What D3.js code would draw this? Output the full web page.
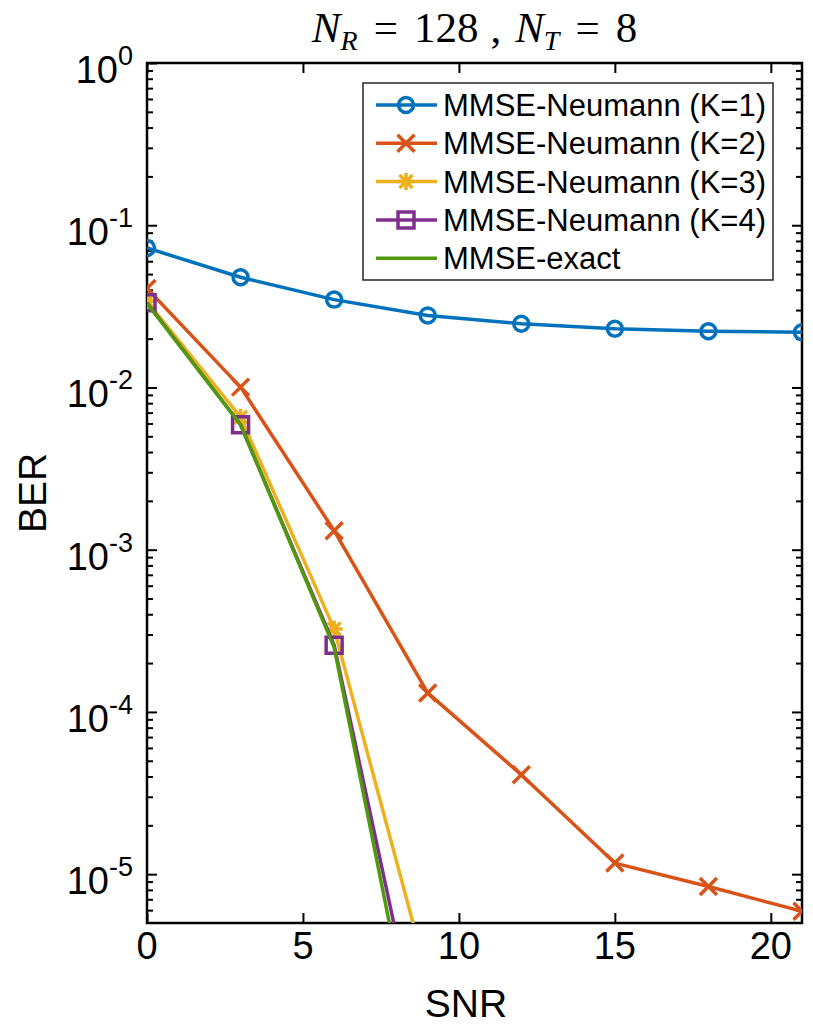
<!DOCTYPE html>
<html>
<head>
<meta charset="utf-8">
<script src="https://cdn.jsdelivr.net/npm/d3@7"></script>
<style>
  body { margin: 0; background: #fff; }
  svg text { font-family: "Liberation Sans", Arial, sans-serif; fill: #000; }
  .tick line { stroke: #000; stroke-width: 2; }
  .domain { display: none; }
</style>
</head>
<body>
<svg id="plot" width="813" height="1028"></svg>
<script>
'use strict';

// SNR grid and BER per detector
var snr = [0, 3, 6, 9, 12, 15, 18, 21];
var berK1 = [0.0724, 0.0478, 0.0348, 0.0278, 0.0247, 0.0230, 0.0222, 0.0219];
var berK2 = [0.0408, 0.01005, 0.00131, 1.31e-4, 4.1e-5, 1.17e-5, 8.4e-6, 5.9e-6];
var berK3 = [0.0340, 0.00656, 3.25e-4, 2.3e-6];
var berK4 = [0.0333, 0.00589, 2.58e-4, 5.3e-7];
var berExact = [0.0330, 0.00590, 2.50e-4, 3.3e-7];

var seriesNames = ['MMSE-Neumann (K=1)', 'MMSE-Neumann (K=2)', 'MMSE-Neumann (K=3)',
                   'MMSE-Neumann (K=4)', 'MMSE-exact'];
var seriesColors = ['#0072BD', '#D95319', '#EDB120', '#7E2F8E', '#4f9a0c'];
var seriesMarkers = ['circle', 'cross', 'star', 'square', 'none'];
var seriesValues = [berK1, berK2, berK3, berK4, berExact];

var xTicks = [0, 5, 10, 15, 20];
var yDecades = [0, -1, -2, -3, -4, -5];

(function() {
var pL = 147, pR = 802, pT = 63, pB = 923;

var x = d3.scaleLinear().domain([0, 21]).range([pL, pR]);
var y = d3.scaleLog().domain([5e-6, 1]).range([pB, pT]);

var svg = d3.select('#plot');

svg.append('defs').append('clipPath').attr('id', 'clip')
    .append('rect')
        .attr('x', pL).attr('y', pT)
        .attr('width', pR - pL).attr('height', pB - pT);

/******************************************************************
    axes: ticks point inward on all four sides
 ******************************************************************/
var minor = [];
[-6, -5, -4, -3, -2, -1].forEach(function(e) {
    for (var m = 2; m <= 9; m++) {
        var v = m * Math.pow(10, e);
        if (v >= 5e-6 && v <= 1) minor.push(v);
    }
});
var major = yDecades.map(function(e) { return Math.pow(10, e); });

svg.append('g').attr('transform', 'translate(0,' + pB + ')')
    .call(d3.axisBottom(x).tickValues(xTicks).tickSize(-10).tickFormat(''));
svg.append('g').attr('transform', 'translate(0,' + pT + ')')
    .call(d3.axisTop(x).tickValues(xTicks).tickSize(-10).tickFormat(''));
svg.append('g').attr('transform', 'translate(' + pL + ',0)')
    .call(d3.axisLeft(y).tickValues(major).tickSize(-10).tickFormat(''));
svg.append('g').attr('transform', 'translate(' + pL + ',0)')
    .call(d3.axisLeft(y).tickValues(minor).tickSize(-6).tickFormat(''));
svg.append('g').attr('transform', 'translate(' + pR + ',0)')
    .call(d3.axisRight(y).tickValues(major).tickSize(-10).tickFormat(''));
svg.append('g').attr('transform', 'translate(' + pR + ',0)')
    .call(d3.axisRight(y).tickValues(minor).tickSize(-6).tickFormat(''));

svg.append('rect')
    .attr('x', pL).attr('y', pT)
    .attr('width', pR - pL).attr('height', pB - pT)
    .attr('fill', 'none').attr('stroke', '#000').attr('stroke-width', 2.5);

// tick labels
svg.append('g').selectAll('text').data(xTicks).enter()
    .append('text')
        .attr('x', function(d) { return x(d); })
        .attr('y', pB + 36)
        .attr('text-anchor', 'middle')
        .style('font-size', '38px')
        .text(function(d) { return d; });

var yl = svg.append('g').selectAll('text').data(yDecades).enter()
    .append('text')
        .attr('x', pL - 14)
        .attr('y', function(d) { return y(Math.pow(10, d)) + 20; })
        .attr('text-anchor', 'end')
        .style('font-size', '38px');
yl.append('tspan').text('10');
yl.append('tspan')
    .attr('dy', -18)
    .style('font-size', '27px')
    .text(function(d) { return d; });

// axis labels and title
svg.append('text')
    .attr('x', 466).attr('y', pB + 94)
    .attr('text-anchor', 'middle')
    .style('font-size', '39px')
    .text('SNR');

svg.append('text')
    .attr('transform', 'translate(46,' + (pT + pB) / 2 + ') rotate(-90)')
    .attr('text-anchor', 'middle')
    .style('font-size', '39px')
    .text('BER');

var title = svg.append('text')
    .attr('x', (pL + pR) / 2).attr('y', 42)
    .attr('text-anchor', 'middle')
    .style('font-family', '"Liberation Serif", "Times New Roman", serif')
    .style('font-size', '43px');
title.append('tspan').style('font-style', 'italic').text('N');
title.append('tspan').attr('dy', 8).style('font-size', '28px').style('font-style', 'italic').text('R');
title.append('tspan').attr('dy', -8).attr('dx', 16).text('=');
title.append('tspan').attr('dx', 16).text('128');
title.append('tspan').attr('dx', 12).text(',');
title.append('tspan').attr('dx', 14).style('font-style', 'italic').text('N');
title.append('tspan').attr('dy', 8).style('font-size', '28px').style('font-style', 'italic').text('T');
title.append('tspan').attr('dy', -8).attr('dx', 16).text('=');
title.append('tspan').attr('dx', 16).text('8');

/******************************************************************
    markers
 ******************************************************************/
function markerPath(type) {
    var s = 8.5;
    switch (type) {
        case 'circle':
            return d3.symbol().type(d3.symbolCircle).size(Math.PI * 7.5 * 7.5)();
        case 'square':
            return 'M-8,-8H8V8H-8Z';
        case 'cross':
            return 'M' + -s + ',' + -s + 'L' + s + ',' + s + 'M' + -s + ',' + s + 'L' + s + ',' + -s;
        case 'star':
            return 'M' + -s + ',0H' + s + 'M0,' + -s + 'V' + s +
                   'M-6.5,-6.5L6.5,6.5M-6.5,6.5L6.5,-6.5';
    }
    return null;
}

var line = d3.line()
    .x(function(d) { return x(d[0]); })
    .y(function(d) { return y(d[1]); });

var plotArea = svg.append('g').attr('clip-path', 'url(#clip)');

seriesValues.forEach(function(vals, i) {
    var pts = vals.map(function(v, j) { return [snr[j], v]; });
    var g = plotArea.append('g');
    g.append('path')
        .attr('d', line(pts))
        .attr('fill', 'none')
        .attr('stroke', seriesColors[i])
        .attr('stroke-width', 3.5)
        .attr('stroke-linejoin', 'round');
    if (seriesMarkers[i] !== 'none')
        g.selectAll('path.m').data(pts).enter()
            .append('path')
                .attr('class', 'm')
                .attr('transform', function(d) { return 'translate(' + [x(d[0]), y(d[1])] + ')'; })
                .attr('d', markerPath(seriesMarkers[i]))
                .attr('fill', 'none')
                .attr('stroke', seriesColors[i])
                .attr('stroke-width', 3.5);
});

/******************************************************************
    legend
 ******************************************************************/
var legend = svg.append('g');
legend.append('rect')
    .attr('x', 363).attr('y', 83)
    .attr('width', 410).attr('height', 197)
    .attr('fill', '#fff')
    .attr('stroke', '#262626').attr('stroke-width', 1.5);

seriesNames.forEach(function(name, i) {
    var ly = 105 + i * 38.3;
    legend.append('line')
        .attr('x1', 376).attr('x2', 437)
        .attr('y1', ly).attr('y2', ly)
        .attr('stroke', seriesColors[i]).attr('stroke-width', 3.5);
    if (seriesMarkers[i] !== 'none')
        legend.append('path')
            .attr('transform', 'translate(406,' + ly + ')')
            .attr('d', markerPath(seriesMarkers[i]))
            .attr('fill', 'none')
            .attr('stroke', seriesColors[i]).attr('stroke-width', 3.5);
    legend.append('text')
        .attr('x', 443).attr('y', ly + 11)
        .style('font-size', '31px')
        .text(name);
});
})();
</script>
</body>
</html>
